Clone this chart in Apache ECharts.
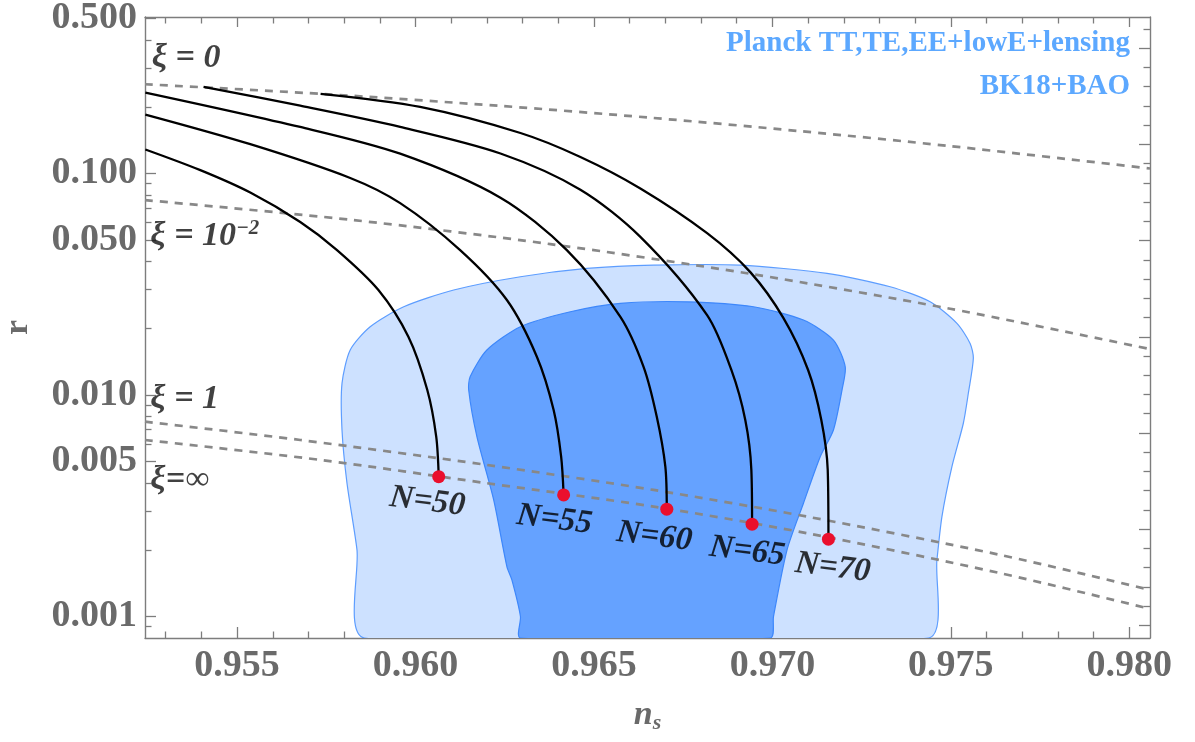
<!DOCTYPE html>
<html><head><meta charset="utf-8">
<script src="https://cdn.jsdelivr.net/npm/echarts@6/dist/echarts.min.js"></script>
<style>html,body{margin:0;padding:0;background:#fff}#chart{width:1195px;height:742px}</style>
</head><body><div id="chart"></div>
<script>
// ---- axis ranges & tick labels ----
const nsMin = 0.95242, nsMax = 0.98058;
const rMin = 0.0008, rMax = 0.5085;
const xMajorTicks = [0.955, 0.960, 0.965, 0.970, 0.975, 0.980];
const yMajorTicks = [0.001, 0.005, 0.01, 0.05, 0.1, 0.5];
const lnMajorTicks = [-1, -2, -3, -4, -5, -6, -7];

// ---- attractor curves (xi from 0 to infinity), one per N ----
const n50Ns = [0.95243, 0.95397, 0.95537, 0.95677, 0.95780, 0.95896, 0.95980, 0.96033, 0.96058, 0.96065];
const n50R  = [0.1283, 0.1035, 0.0820, 0.06035, 0.04508, 0.02977, 0.01832, 0.01053, 0.006484, 0.00428];
const n55Ns = [0.95243, 0.95537, 0.95817, 0.95957, 0.96125, 0.96256, 0.96340, 0.96387, 0.96408, 0.96415];
const n55R  = [0.1845, 0.1356, 0.09544, 0.07345, 0.04508, 0.02683, 0.01489, 0.008554, 0.005268, 0.00354];
const n60Ns = [0.95243, 0.95677, 0.95957, 0.96238, 0.96424, 0.96574, 0.96639, 0.96676, 0.96700, 0.96704];
const n60R  = [0.2319, 0.1621, 0.1228, 0.07774, 0.04508, 0.02255, 0.01341, 0.007982, 0.004749, 0.003051];
const n65Ns = [0.95406, 0.95677, 0.95957, 0.96238, 0.96462, 0.96630, 0.96817, 0.96885, 0.96924, 0.96941, 0.96943];
const n65R  = [0.2458, 0.2022, 0.1622, 0.1231, 0.08452, 0.05176, 0.02295, 0.01297, 0.007712, 0.004589, 0.002611];
const n70Ns = [0.95734, 0.96013, 0.96294, 0.96462, 0.96630, 0.96817, 0.96938, 0.97031, 0.97100, 0.97137, 0.97155, 0.97157];
const n70R  = [0.2288, 0.1997, 0.1523, 0.1187, 0.08557, 0.05378, 0.03587, 0.02225, 0.01297, 0.007712, 0.004589, 0.002234];

// ---- end points (xi -> infinity) ----
const nValues = [50, 55, 60, 65, 70];
const endNs = [0.96065, 0.96415, 0.96704, 0.96943, 0.97157];
const endR  = [0.00428, 0.00354, 0.003051, 0.002611, 0.002234];
// where the "N=" labels sit (data space)
const nLabelNs = [0.96033, 0.96389, 0.96669, 0.96929, 0.97169];
const nLabelR  = [0.003292, 0.002730, 0.002288, 0.001964, 0.001658];

// ---- constant-xi dashed lines ----
const xi0Ns = [0.95242, 0.95734, 0.96238, 0.96658, 0.97077, 0.97498, 0.98058];
const xi0R  = [0.2528, 0.2288, 0.2018, 0.1785, 0.1553, 0.1329, 0.1053];
const xi2Ns = [0.95242, 0.95817, 0.96378, 0.96938, 0.97498, 0.98058];
const xi2R  = [0.0758, 0.06182, 0.04798, 0.03524, 0.02451, 0.01612];
const xi1Ns = [0.95242, 0.95677, 0.96200, 0.96667, 0.97097, 0.97638, 0.98058];
const xi1R  = [0.007579, 0.006266, 0.004834, 0.003727, 0.002825, 0.001898, 0.001319];
const xiInfNs = [0.95242, 0.95734, 0.96200, 0.96667, 0.97097, 0.97638, 0.98058];
const xiInfR  = [0.006266, 0.005090, 0.003997, 0.003135, 0.002378, 0.001570, 0.001083];

// ---- Planck/BK18 contours ----
const c95Ns = [0.95857, 0.95836, 0.95808, 0.95794, 0.95794, 0.95817, 0.95873, 0.95967, 0.96107, 0.96294, 0.96480, 0.96667, 0.96910, 0.97153, 0.97330, 0.97442, 0.97517, 0.97554, 0.97563, 0.97549, 0.97535, 0.97503, 0.97475, 0.97461, 0.97437];
const c95R  = [0.0008, 0.001999, 0.003997, 0.006953, 0.01129, 0.01596, 0.02033, 0.02502, 0.02977, 0.03417, 0.03727, 0.03857, 0.03857, 0.03540, 0.03080, 0.02635, 0.02106, 0.01710, 0.01464, 0.01018, 0.007455, 0.004749, 0.002825, 0.001802, 0.0008];
const c68Ns = [0.96294, 0.96294, 0.96270, 0.96256, 0.96219, 0.96172, 0.96149, 0.96153, 0.96200, 0.96294, 0.96434, 0.96574, 0.96761, 0.96947, 0.97087, 0.97171, 0.97204, 0.97195, 0.97171, 0.97134, 0.97087, 0.97041, 0.97003, 0.96994];
const c68R  = [0.0008, 0.001, 0.001464, 0.001681, 0.00336, 0.006484, 0.01053, 0.01209, 0.01596, 0.02033, 0.02375, 0.02592, 0.02635, 0.02502, 0.02179, 0.0177, 0.01341, 0.01053, 0.006953, 0.005268, 0.003248, 0.001999, 0.001, 0.0008];

// ---- text annotations (anchored in data space) ----
const xiLabelText = ['{t|ξ = 0}', '{t|ξ = 10}{sup|−2}', '{t|ξ = 1}', '{t|ξ=∞}'];
const xiLabelNs = [0.95261, 0.95257, 0.95257, 0.95257];
const xiLabelR  = [0.3312, 0.0522, 0.00959, 0.004136];
const legendLines = ['Planck TT,TE,EE+lowE+lensing', 'BK18+BAO'];

// ---------------------------------------------------------------
const L10 = Math.log10, LN = Math.log;
const FRAME = '#7d7d7d', TICKLBL = '#6a6a6a', SERIF = 'Liberation Serif';
const pairs = (xs, ys) => xs.map((x, i) => [x, ys[i]]);

const xMinor = []; for (let i = 953; i <= 980; i++) if (i % 5) xMinor.push(i / 1000);
const yMinor = [];
for (let e = -4; e <= -1; e++) for (let k = 2; k <= 9; k++) {
  if (k === 5) continue; const v = k * Math.pow(10, e); if (v > rMin && v < rMax) yMinor.push(L10(v));
}
const lnMinor = []; for (let i = -35; i <= -4; i++) if (i % 5) lnMinor.push(i / 5);

const tickLine = { color: FRAME, width: 1.3 };
function tickAxis(extra) {
  return Object.assign({
    type: 'value', splitLine: { show: false },
    axisLine: { show: false, onZero: false },
    axisLabel: { show: false }
  }, extra);
}

const xAxes = [
  tickAxis({ min: nsMin, max: nsMax, position: 'bottom',
    axisLine: { show: true, onZero: false, lineStyle: { color: FRAME, width: 1.4 } },
    axisTick: { show: true, inside: true, length: 11, customValues: xMajorTicks, lineStyle: tickLine },
    axisLabel: { show: true, customValues: xMajorTicks, formatter: v => v.toFixed(3), margin: 9,
      fontFamily: SERIF, fontWeight: 'bold', fontSize: 38, color: TICKLBL },
    name: '{n|n}{s|s}', nameLocation: 'middle', nameGap: 58,
    nameTextStyle: { rich: {
      n: { fontFamily: SERIF, fontStyle: 'italic', fontWeight: 'bold', fontSize: 34, color: TICKLBL },
      s: { fontFamily: SERIF, fontStyle: 'italic', fontWeight: 'bold', fontSize: 22, color: TICKLBL, padding: [16, 0, 0, 0] }
    } } }),
  tickAxis({ min: nsMin, max: nsMax, position: 'bottom',
    axisTick: { show: true, inside: true, length: 6.5, customValues: xMinor, lineStyle: tickLine } }),
  tickAxis({ min: nsMin, max: nsMax, position: 'top',
    axisLine: { show: true, onZero: false, lineStyle: { color: FRAME, width: 1.4 } },
    axisTick: { show: true, inside: true, length: 10, customValues: xMajorTicks, lineStyle: tickLine } }),
  tickAxis({ min: nsMin, max: nsMax, position: 'top',
    axisTick: { show: true, inside: true, length: 6.5, customValues: xMinor, lineStyle: tickLine } })
];

const yAxes = [
  { type: 'log', logBase: 10, min: rMin, max: rMax, show: false },
  tickAxis({ min: L10(rMin), max: L10(rMax), position: 'left',
    axisLine: { show: true, onZero: false, lineStyle: { color: FRAME, width: 1.4 } },
    axisTick: { show: true, inside: true, length: 11, customValues: yMajorTicks.map(L10), lineStyle: tickLine },
    axisLabel: { show: true, customValues: yMajorTicks.map(L10), formatter: v => Math.pow(10, v).toFixed(3),
      margin: 8, fontFamily: SERIF, fontWeight: 'bold', fontSize: 38, color: TICKLBL },
    name: 'r', nameLocation: 'middle', nameGap: 110,
    nameTextStyle: { fontFamily: SERIF, fontWeight: 'bold', fontSize: 34, color: TICKLBL } }),
  tickAxis({ min: L10(rMin), max: L10(rMax), position: 'left',
    axisTick: { show: true, inside: true, length: 6.5, customValues: yMinor, lineStyle: tickLine } }),
  tickAxis({ min: LN(rMin), max: LN(rMax), position: 'right',
    axisLine: { show: true, onZero: false, lineStyle: { color: FRAME, width: 1.4 } },
    axisTick: { show: true, inside: true, length: 11, customValues: lnMajorTicks, lineStyle: tickLine } }),
  tickAxis({ min: LN(rMin), max: LN(rMax), position: 'right',
    axisTick: { show: true, inside: true, length: 6.5, customValues: lnMinor, lineStyle: tickLine } })
];

function contour(nsArr, rArr, fill, stroke, z) {
  return {
    type: 'custom', coordinateSystem: 'cartesian2d', xAxisIndex: 0, yAxisIndex: 0,
    clip: true, silent: true, z: z,
    data: [[nsArr[1], rArr[1]]],
    renderItem: (params, api) => ({
      type: 'polygon',
      shape: { points: nsArr.map((x, i) => api.coord([x, rArr[i]])), smooth: 0.25 },
      style: { fill: fill, stroke: stroke, lineWidth: 1.2 }
    })
  };
}
function dashed(xs, ys) {
  return { type: 'line', xAxisIndex: 0, yAxisIndex: 0, data: pairs(xs, ys), showSymbol: false,
    smooth: 0.3, silent: true, z: 3,
    lineStyle: { color: '#888888', width: 2.7, type: [8, 7] } };
}
function curve(xs, ys) {
  return { type: 'line', xAxisIndex: 0, yAxisIndex: 0, data: pairs(xs, ys), showSymbol: false,
    smooth: 0.3, silent: true, z: 4,
    lineStyle: { color: '#000', width: 2.3 } };
}

const option = {
  animation: false,
  backgroundColor: '#fff',
  grid: { left: 145, top: 17, width: 1005, height: 621, containLabel: false, outerBoundsMode: 'none' },
  title: [
    { text: legendLines[0], right: 65, top: 29, padding: 0,
      textStyle: { fontFamily: SERIF, fontWeight: 'bold', fontSize: 29, color: '#5ca8ff' } },
    { text: legendLines[1], right: 65, top: 72, padding: 0,
      textStyle: { fontFamily: SERIF, fontWeight: 'bold', fontSize: 29, color: '#5ca8ff' } }
  ],
  xAxis: xAxes,
  yAxis: yAxes,
  series: [
    contour(c95Ns, c95R, '#cde1ff', '#5d9dff', 1),
    contour(c68Ns, c68R, '#65a2ff', '#3d87fb', 2),
    dashed(xi0Ns, xi0R),
    dashed(xi2Ns, xi2R),
    dashed(xi1Ns, xi1R),
    dashed(xiInfNs, xiInfR),
    curve(n50Ns, n50R),
    curve(n55Ns, n55R),
    curve(n60Ns, n60R),
    curve(n65Ns, n65R),
    curve(n70Ns, n70R),
    { type: 'scatter', xAxisIndex: 0, yAxisIndex: 0, z: 6, silent: true,
      symbol: 'circle', symbolSize: 13, itemStyle: { color: '#ea0f2d', opacity: 1 },
      data: pairs(endNs, endR) },
    { type: 'scatter', xAxisIndex: 0, yAxisIndex: 0, z: 6, silent: true, symbolSize: 0,
      data: nLabelNs.map((x, i) => ({ value: [x, nLabelR[i]], name: 'N=' + nValues[i] })),
      label: { show: true, position: 'inside', rotate: -7, formatter: p => p.name,
        fontFamily: SERIF, fontStyle: 'italic', fontWeight: 'bold', fontSize: 33, color: '#000' } },
    { type: 'scatter', xAxisIndex: 0, yAxisIndex: 0, z: 6, silent: true,
      symbolSize: 0,
      data: xiLabelNs.map((x, i) => ({ value: [x, xiLabelR[i]], name: xiLabelText[i] })),
      label: { show: true, position: 'right', distance: 0, formatter: p => p.name,
        rich: {
          t: { fontFamily: SERIF, fontStyle: 'italic', fontWeight: 'bold', fontSize: 34, color: '#111' },
          sup: { fontFamily: SERIF, fontStyle: 'italic', fontWeight: 'bold', fontSize: 21, color: '#111', verticalAlign: 'top', padding: [0, 0, 14, 0] }
        } } }
  ]
};
const chart = echarts.init(document.getElementById('chart'));
chart.setOption(option);
</script></body></html>
